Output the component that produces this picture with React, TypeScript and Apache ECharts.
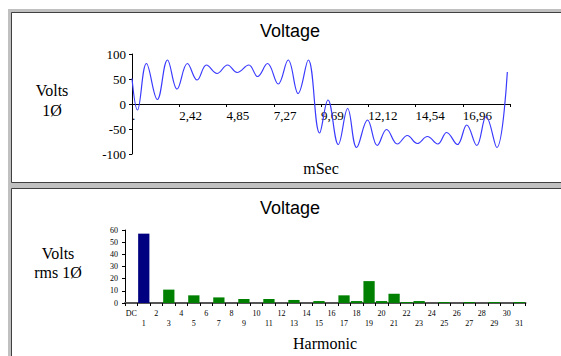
import React, { useEffect, useRef } from "react";
import * as echarts from "echarts";

// ---- Top chart: voltage waveform (mSec vs Volts) ----
const waveT = [0, 0.28, 0.74, 1.3, 1.82, 2.31, 2.84, 3.34, 3.82, 4.36, 4.9, 5.39, 5.99, 6.44, 6.95, 7.5, 8.01, 8.52, 9.04, 9.62, 10.05, 10.58, 11.06, 11.52, 12.08, 12.58, 13.06, 13.61, 14.12, 14.63, 15.15, 15.68, 16.14, 16.69, 17.17, 17.68, 18.16, 18.71, 19.25];
const waveV = [51, -12, 81, 9, 88, 30, 81, 48, 78, 61, 78, 63, 78, 55, 81, 40, 88, 21, 88, -58, 8, -81, -9, -87, -32, -83, -51, -80, -63, -79, -65, -80, -57, -81, -42, -83, -25, -87, 64];
const xStep = 2.4233;
const xTickLabels = [".", "2,42", "4,85", "7,27", "9,69", "12,12", "14,54", "16,96", ""];

// ---- Bottom chart: harmonic spectrum ----
const harmonicLabels = ["DC", "1", "2", "3", "4", "5", "6", "7", "8", "9", "10", "11", "12", "13", "14", "15", "16", "17", "18", "19", "20", "21", "22", "23", "24", "25", "26", "27", "28", "29", "30", "31"];
const harmonicValues = [0, 57, 0, 11, 0, 6.3, 0, 4.6, 0, 3.3, 0, 3.3, 0, 2.5, 0, 1.6, 0, 6.3, 1.6, 18, 1.6, 7.6, 0.8, 1.6, 0, 0.8, 0, 0.8, 0, 0.8, 0, 0.8];

const SERIF = "'Liberation Serif', 'Times New Roman', serif";
const SANS = "'Liberation Sans', Arial, sans-serif";

export default function App() {
  const ref = useRef<HTMLDivElement>(null);

  useEffect(() => {
    if (!ref.current) return;
    const chart = echarts.init(ref.current, undefined, { renderer: "svg" });
    const xMax = xStep * (xTickLabels.length - 1);
    const GRAY = "#c0c0c0";
    const DARK = "#404040";

    const frame: any[] = [
      { type: "rect", shape: { x: 8, y: 9, width: 553, height: 4 }, style: { fill: GRAY } },
      { type: "rect", shape: { x: 8, y: 9, width: 4, height: 347 }, style: { fill: GRAY } },
      { type: "rect", shape: { x: 8, y: 182, width: 553, height: 7 }, style: { fill: GRAY } },
      { type: "line", shape: { x1: 11.5, y1: 12.5, x2: 561, y2: 12.5 }, style: { stroke: DARK, lineWidth: 1 } },
      { type: "line", shape: { x1: 11.5, y1: 12.5, x2: 11.5, y2: 182.5 }, style: { stroke: DARK, lineWidth: 1 } },
      { type: "line", shape: { x1: 11.5, y1: 182.5, x2: 561, y2: 182.5 }, style: { stroke: DARK, lineWidth: 1 } },
      { type: "line", shape: { x1: 11.5, y1: 188.5, x2: 561, y2: 188.5 }, style: { stroke: DARK, lineWidth: 1 } },
      { type: "line", shape: { x1: 11.5, y1: 188.5, x2: 11.5, y2: 356 }, style: { stroke: DARK, lineWidth: 1 } },
    ];

    const txt = (text: string, x: number, y: number, size: number, font: string, lh?: number) => ({
      type: "text",
      x,
      y,
      style: {
        text,
        fill: "#000",
        font: `${size}px ${font}`,
        align: "center",
        verticalAlign: "middle",
        lineHeight: lh ?? size * 1.2,
      },
    });

    const texts = [
      txt("Voltage", 290, 30.5, 18, SANS),
      txt("Volts\n1Ø", 52, 100, 16, SERIF, 20),
      txt("mSec", 321, 168, 16, SERIF),
      txt("Voltage", 290, 207.5, 18, SANS),
      txt("Volts\nrms 1Ø", 58, 262.5, 16, SERIF, 19),
      txt("Harmonic", 325, 343, 16, SERIF),
    ];

    chart.setOption({
      animation: false,
      backgroundColor: "#ffffff",
      graphic: [...frame, ...texts],
      grid: [
        { left: 132, right: 51, top: 54, bottom: 202 },
        { left: 125, right: 35.5, top: 230, bottom: 53 },
      ],
      xAxis: [
        {
          type: "value",
          gridIndex: 0,
          min: 0,
          max: xMax,
          interval: xStep,
          offset: -50,
          axisLine: { onZero: false, lineStyle: { color: "#000", width: 1 } },
          axisTick: { show: true, length: 3, lineStyle: { color: "#000" } },
          axisLabel: {
            formatter: (v: number) => xTickLabels[Math.round(v / xStep)] ?? "",
            align: "left",
            margin: 5,
            fontFamily: SERIF,
            fontSize: 13,
            color: "#000",
          },
          splitLine: { show: false },
        },
        {
          type: "category",
          gridIndex: 1,
          data: harmonicLabels,
          axisLine: { lineStyle: { color: "#555", width: 2 } },
          axisTick: { show: true, interval: 0, length: 3, lineStyle: { color: "#000" } },
          axisLabel: {
            interval: 0,
            margin: 5,
            fontFamily: SERIF,
            fontSize: 8,
            lineHeight: 10,
            color: "#000",
            formatter: (v: string, i: number) => (i % 2 === 0 ? v : "\n" + v),
          },
          splitLine: { show: false },
        },
      ],
      yAxis: [
        {
          type: "value",
          gridIndex: 0,
          min: -100,
          max: 100,
          interval: 50,
          axisLine: { show: true, onZero: false, lineStyle: { color: "#000" } },
          axisTick: { show: true, length: 3, lineStyle: { color: "#000" } },
          axisLabel: { margin: 6, fontFamily: SERIF, fontSize: 13, color: "#000" },
          splitLine: { show: false },
        },
        {
          type: "value",
          gridIndex: 1,
          min: 0,
          max: 60,
          interval: 10,
          axisLine: { show: true, lineStyle: { color: "#000" } },
          axisTick: { show: true, length: 3, lineStyle: { color: "#000" } },
          axisLabel: { margin: 7, fontFamily: SERIF, fontSize: 8, color: "#000" },
          splitLine: { show: false },
        },
      ],
      series: [
        {
          type: "line",
          xAxisIndex: 0,
          yAxisIndex: 0,
          data: waveT.map((t, i) => [t, waveV[i]]),
          smooth: 0.4,
          symbol: "none",
          lineStyle: { color: "#3a3aff", width: 1.2 },
          z: 1,
        },
        {
          type: "bar",
          xAxisIndex: 1,
          yAxisIndex: 1,
          barCategoryGap: "10%",
          data: harmonicValues.map((v, i) => ({
            value: v,
            itemStyle: { color: i === 1 ? "#000080" : "#008000" },
          })),
        },
      ],
    });

    return () => chart.dispose();
  }, []);

  return (
    <div
      ref={ref}
      style={{ position: "absolute", left: 0, top: 0, width: 561, height: 356 }}
    />
  );
}
